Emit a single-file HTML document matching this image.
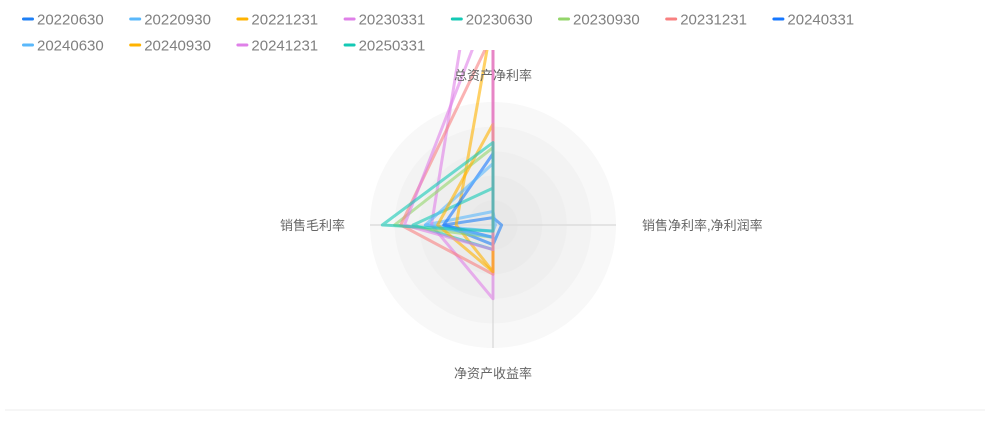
<!DOCTYPE html>
<html><head><meta charset="utf-8"><style>
body{margin:0;width:999px;height:426px;background:#fff;overflow:hidden;font-family:"Liberation Sans","Noto Sans CJK SC",sans-serif}
svg{position:absolute;left:0;top:0}
</style></head><body>
<svg id="c" width="999" height="426"></svg>
<script>
const seriesNames=["20220630","20220930","20221231","20230331","20230630","20230930","20231231","20240331","20240630","20240930","20241231","20250331"];
const indicators=["总资产净利率","销售净利率,净利润率","净资产收益率","销售毛利率"];
const sTop=[0.06,0.11,1.7,3.1,0.3,0.63,1.56,0.58,0.5,0.82,1.86,0.67];
const sRight=[0.07,0.02,0.0,0.0,0.0,0.0,0.0,0.0,0.0,0.0,0.0,0.0];
const sBottom=[0.16,0.05,0.38,0.6,0.2,0.1,0.4,0.1,0.1,0.38,0.2,0.05];
const sLeft=[0.40,0.55,0.30,0.50,0.65,0.80,0.75,0.40,0.55,0.45,0.72,0.90];
const colors=["#1e7ff5","#5ab8fb","#ffb300","#df80e8","#14c9b5","#93d56a","#f88080","#1677ff","#5ab8fb","#ffb300","#df80e8","#14c9b5"];
const NS="http://www.w3.org/2000/svg";
const svg=document.getElementById('c');
const cx=493,cy=225,R=123;
function mk(t,a,p){const e=document.createElementNS(NS,t);for(const k in a)e.setAttribute(k,a[k]);(p||svg).appendChild(e);return e;}
const shades=["#f8f8f8","#f3f3f3","#efefef","#ebebeb","#e8e8e8"];
for(let i=0;i<5;i++){const c=mk('circle',{cx:cx,cy:cy,r:R*(5-i)/5,fill:shades[i]});

}
mk('line',{x1:cx,y1:cy-R,x2:cx,y2:cy+R,stroke:'#ddd','stroke-width':1.5});
mk('line',{x1:cx-R,y1:cy,x2:cx+R,y2:cy,stroke:'#ddd','stroke-width':1.5});
const defs=mk('defs',{});const cp=mk('clipPath',{id:'clip'},defs);mk('rect',{x:0,y:50,width:999,height:376},cp);
const g=mk('g',{'clip-path':'url(#clip)'});
function pt(v,dir){const r=v*R;return dir==0?[cx,cy-r]:dir==1?[cx+r,cy]:dir==2?[cx,cy+r]:[cx-r,cy];}
for(let i=0;i<seriesNames.length;i++){
 const vals=[sTop[i],sRight[i],sBottom[i],sLeft[i]];
 const pts=vals.map((v,d)=>pt(v,d).join(',')).join(' ');
 const p=mk('polygon',{points:pts,fill:'none',stroke:colors[i],'stroke-width':3,'stroke-opacity':0.6,'stroke-linejoin':'round'},g);
 
 
}
const lp=[[cx,80,'middle'],[642,230,'start'],[cx,378,'middle'],[345,230,'end']];
indicators.forEach((t,i)=>{const e=mk('text',{x:lp[i][0],y:lp[i][1],'text-anchor':lp[i][2],'font-size':13,fill:'#666'});e.textContent=t;

});
seriesNames.forEach((n,i)=>{const row=i<8?0:1,col=i<8?i:i-8;const x=22+col*107.2,y=row?45:19;
const gi=mk('g',{});


mk('rect',{x:x,y:y-1.5,width:12,height:3,rx:1.5,fill:colors[i]},gi);
const t=mk('text',{x:x+15,y:y+5.5,'font-size':15,fill:'#808080'},gi);t.textContent=n;});
const bl=mk('line',{x1:5,y1:410,x2:985,y2:410,stroke:'#eee','stroke-width':1});


</script>
</body></html>
